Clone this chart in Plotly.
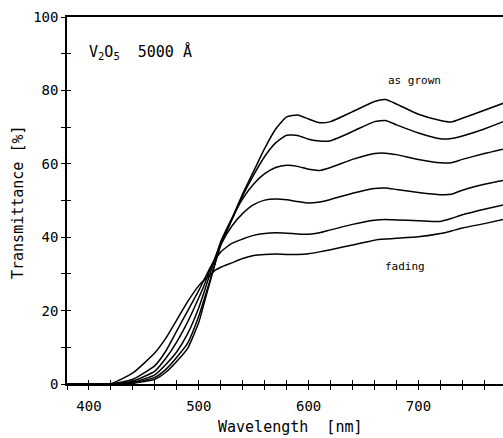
import plotly.graph_objects as go

wavelength = [380, 400, 420, 440, 460, 470, 480, 490, 500, 505, 510, 515, 520, 530, 540, 550,
              560, 570, 580, 590, 600, 610, 620, 640, 660, 670, 680, 700, 720, 730, 740, 760, 780]

t_as_grown = [0, 0, 0, 0.2, 1.3, 3.2, 6.2, 9.8, 16.8, 22.2, 27.6, 33.0, 38.3, 45.0, 51.8, 58.0,
              64.2, 69.5, 72.8, 73.3, 72.2, 71.2, 71.5, 74.2, 77.0, 77.5, 76.3, 73.5, 71.8, 71.4, 72.4, 74.6, 76.8]
t_2 = [0, 0, 0, 0.3, 1.8, 4.0, 7.3, 11.2, 18.5, 23.2, 28.0, 33.0, 37.8, 44.6, 51.3, 57.0,
       62.0, 65.7, 67.8, 67.7, 66.7, 66.2, 66.3, 68.8, 71.5, 71.8, 70.6, 68.4, 66.8, 66.9, 67.6, 69.5, 71.8]
t_3 = [0, 0, 0, 0.5, 2.5, 5.3, 8.8, 13.8, 20.8, 25.2, 29.8, 34.3, 38.8, 45.0, 50.5, 54.5,
       57.3, 59.0, 59.6, 59.3, 58.5, 58.2, 59.0, 61.2, 62.8, 62.9, 62.5, 61.2, 60.3, 60.3, 61.2, 62.8, 64.2]
t_4 = [0, 0, 0, 0.8, 3.5, 7.0, 11.5, 17.0, 23.5, 27.0, 31.0, 34.5, 38.0, 43.0, 46.5, 48.9,
       50.1, 50.4, 50.2, 49.7, 49.3, 49.6, 50.3, 52.0, 53.3, 53.4, 53.0, 52.2, 51.6, 51.7, 52.8, 54.4, 55.6]
t_5 = [0, 0, 0, 1.3, 5.0, 9.0, 14.5, 20.0, 25.5, 28.5, 31.5, 34.0, 36.0, 38.3, 39.5, 40.5,
       41.0, 41.2, 41.1, 40.9, 40.8, 41.2, 42.0, 43.5, 44.6, 44.8, 44.7, 44.5, 44.3, 45.1, 46.1, 47.6, 49.0]
t_fading = [0, 0, 0.1, 3.0, 8.5, 12.5, 17.5, 22.5, 26.8, 28.4, 29.6, 31.0, 31.8, 33.0, 34.2, 35.0,
            35.3, 35.4, 35.3, 35.3, 35.5, 36.0, 36.6, 37.9, 39.2, 39.5, 39.7, 40.1, 41.0, 41.7, 42.5, 43.7, 45.0]

series = [t_as_grown, t_2, t_3, t_4, t_5, t_fading]

x_tickvals = [400, 500, 600, 700]
x_ticktext = ["400", "500", "600", "700"]
x_minor = list(range(380, 781, 20))
y_tickvals = [0, 20, 40, 60, 80, 100]
y_ticktext = ["0", "20", "40", "60", "80", "100"]
y_minor = list(range(0, 101, 10))

FONT = "DejaVu Sans Mono"
TICK = dict(ticklen=4, tickwidth=1.2, tickcolor="black")

fig = go.Figure()
for s in series:
    fig.add_trace(go.Scatter(x=wavelength, y=s, mode="lines",
                             line=dict(color="black", width=1.5, shape="spline", smoothing=0.5),
                             showlegend=False, hoverinfo="skip"))

fig.update_layout(
    width=503, height=438,
    margin=dict(l=67, r=0, t=17, b=54),
    paper_bgcolor="white", plot_bgcolor="white",
    font=dict(family=FONT, color="black", size=13),
    xaxis=dict(range=[380, 777], showgrid=False, zeroline=False, showline=True, linecolor="black",
               linewidth=1.5, mirror=True, ticks="outside", tickvals=x_tickvals, ticktext=x_ticktext,
               tickfont=dict(size=14, family=FONT), ticklabelstandoff=4,
               minor=dict(tickvals=x_minor, ticks="outside", showgrid=False, **TICK), **TICK),
    yaxis=dict(range=[0, 100], showgrid=False, zeroline=False, showline=True, linecolor="black",
               linewidth=1.5, ticks="outside", tickvals=y_tickvals, ticktext=y_ticktext,
               tickfont=dict(size=14, family=FONT),
               minor=dict(tickvals=y_minor, ticks="outside", showgrid=False, **TICK), **TICK),
    xaxis2=dict(overlaying="x", matches="x", range=[380, 777], showgrid=False, zeroline=False,
                showline=False, ticks="inside", tickvals=x_minor, showticklabels=False,
                side="bottom", **TICK),
    yaxis2=dict(overlaying="y", matches="y", range=[0, 100], showgrid=False, zeroline=False,
                showline=False, ticks="inside", tickvals=y_minor, showticklabels=False,
                side="left", **TICK),
)
fig.add_trace(go.Scatter(x=[380], y=[0], xaxis="x2", yaxis="y2", mode="markers",
                         marker=dict(opacity=0), showlegend=False, hoverinfo="skip"))

fig.add_annotation(x=398.5, y=90.4, xref="x", yref="y", xanchor="left", yanchor="middle",
                   text="V<sub>2</sub>O<sub>5</sub>  5000 Å", showarrow=False,
                   font=dict(size=15, family=FONT))
fig.add_annotation(x=696.5, y=82.6, xref="x", yref="y", xanchor="center", yanchor="middle",
                   text="as grown", showarrow=False, font=dict(size=11, family=FONT))
fig.add_annotation(x=687.5, y=32.1, xref="x", yref="y", xanchor="center", yanchor="middle",
                   text="fading", showarrow=False, font=dict(size=11, family=FONT))
fig.add_annotation(x=(290 - 67) / 436, y=(384 - 427) / 367, xref="paper", yref="paper",
                   xanchor="center", yanchor="middle", text="Wavelength  [nm]", showarrow=False,
                   font=dict(size=15, family=FONT))
fig.add_annotation(x=(18 - 67) / 436, y=(384 - 202) / 367, xref="paper", yref="paper",
                   xanchor="center", yanchor="middle", text="Transmittance [%]", textangle=-90,
                   showarrow=False, font=dict(size=15, family=FONT))

fig.write_html("out.html", config={"displayModeBar": False},
               post_script="document.body.style.margin='0';document.body.style.overflow='hidden';")
